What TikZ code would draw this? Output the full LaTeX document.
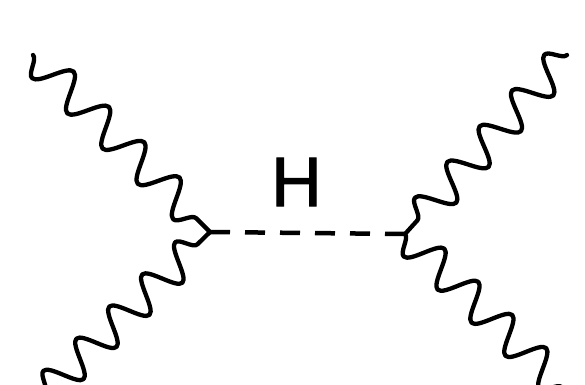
\documentclass[tikz,border=0pt]{standalone}
\usepackage{fontspec}
\setmainfont{Liberation Sans}
\newfontfamily\hfont[FakeBold=1.5]{Liberation Sans}
\usetikzlibrary{decorations.pathmorphing}
\begin{document}
\begin{tikzpicture}[x=1pt,y=-1pt,
  boson/.style={decorate, decoration={snake, amplitude=17pt, segment length=#1}, line width=4.3pt, line cap=round, line join=round},
  scalar/.style={line width=4.5pt, dash pattern=on 20pt off 15pt}]
\useasboundingbox (0,0) rectangle (585,384);
\coordinate (L) at (210,232);
\coordinate (R) at (405,234);
\coordinate (ul) at (33,55);
\coordinate (ll) at (45,393);
\coordinate (ur) at (567,55);
\coordinate (lr) at (575,400);
\draw[boson=49.9pt, decoration={mirror}] (ul) -- (L);
\draw[boson=46pt] (ll) -- (L);
\draw[boson=48.2pt, decoration={mirror}] (ur) -- (R);
\draw[boson=47.4pt, decoration={mirror}] (R) -- (lr);
\draw[scalar] (L) -- (R);
\node[font=\hfont\fontsize{70}{80}\selectfont, inner sep=0pt] (h) at (296.5,182) {H};
\end{tikzpicture}
\end{document}
